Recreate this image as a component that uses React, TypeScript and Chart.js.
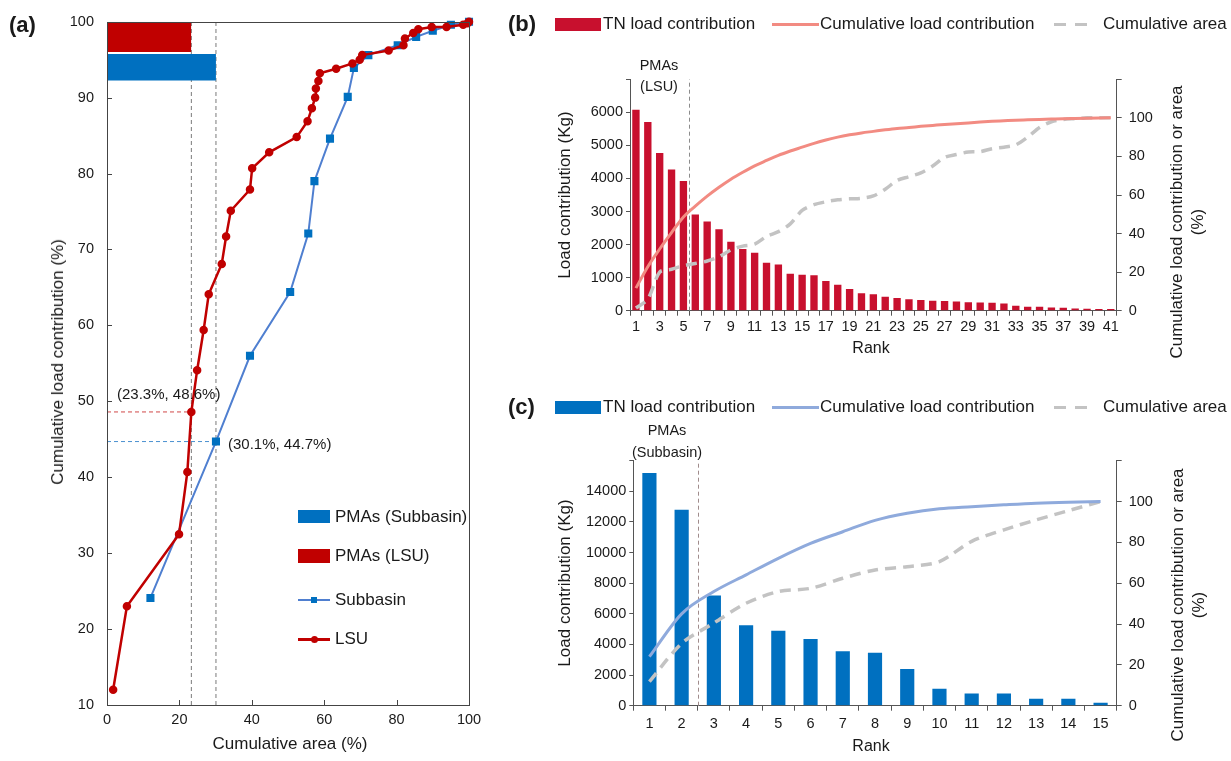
import React, { useEffect, useRef } from 'react';
import { Chart, registerables } from 'chart.js';

Chart.register(...registerables);

const FONT = "'Liberation Sans', Arial, Helvetica, sans-serif";
const TXT = '#1a1a1a';
Chart.defaults.font.family = FONT;
Chart.defaults.color = TXT;

// ---------- Panel (a) data ----------
const lsuArea = [1.7, 5.5, 19.9, 22.2, 23.3, 24.9, 26.7, 28.1, 31.7, 32.9, 34.2, 39.5, 40.1, 44.8, 52.4, 55.4, 56.6, 57.5, 57.7, 58.4, 58.8, 63.3, 67.8, 69.8, 70.5, 77.8, 81.9, 82.3, 84.6, 86.0, 89.7, 93.8, 98.4, 99.6, 100];
const lsuLoad = [12.0, 23.0, 32.5, 40.7, 48.6, 54.1, 59.4, 64.1, 68.1, 71.7, 75.1, 77.9, 80.7, 82.8, 84.8, 86.9, 88.6, 90.0, 91.2, 92.2, 93.2, 93.8, 94.5, 95.0, 95.6, 96.2, 96.9, 97.8, 98.5, 99.0, 99.3, 99.3, 99.6, 99.8, 100];
const subArea = [12.0, 30.1, 39.5, 50.6, 55.6, 57.3, 61.6, 66.5, 68.2, 72.2, 80.3, 85.4, 90.0, 95.0, 100];
const subLoad = [24.1, 44.7, 56.0, 64.4, 72.1, 79.0, 84.6, 90.1, 93.9, 95.6, 96.9, 98.0, 98.8, 99.6, 100];
const pmaLsu = [23.3, 48.6];
const pmaSub = [30.1, 44.7];
const xTicksA = [0, 20, 40, 60, 80, 100];
const yTicksA = [10, 20, 30, 40, 50, 60, 70, 80, 90, 100];

// ---------- Panel (b) data ----------
const rankB = ['1', '2', '3', '4', '5', '6', '7', '8', '9', '10', '11', '12', '13', '14', '15', '16', '17', '18', '19', '20', '21', '22', '23', '24', '25', '26', '27', '28', '29', '30', '31', '32', '33', '34', '35', '36', '37', '38', '39', '40', '41'];
const loadB = [6080, 5710, 4770, 4270, 3925, 2910, 2700, 2465, 2085, 1870, 1750, 1450, 1400, 1115, 1085, 1075, 895, 785, 655, 525, 495, 425, 385, 345, 325, 300, 290, 280, 255, 250, 240, 220, 150, 120, 120, 100, 90, 70, 60, 50, 50];
const cumLoadB = [11.7, 22.8, 32, 40.5, 48.6, 54.2, 59.4, 64, 68.2, 71.8, 75.1, 77.9, 80.6, 82.8, 84.8, 86.8, 88.5, 90, 91.2, 92.2, 93, 93.8, 94.5, 95, 95.6, 96.1, 96.6, 97, 97.4, 97.8, 98.2, 98.5, 98.8, 99, 99.2, 99.4, 99.6, 99.7, 99.8, 99.9, 100];
const cumAreaB = [1.4, 6, 20, 21.5, 23.3, 24.5, 25.8, 28, 31.5, 33.5, 34.5, 38.5, 41, 45, 52, 55, 56.5, 57.5, 58, 58.3, 59.5, 63, 67.5, 69.5, 71.5, 75, 79.5, 81, 82.3, 82.5, 84, 84.8, 86, 90, 95, 98, 99.2, 99.6, 100, 100, 100];
const pmaCountB = 5;
const yTicksB = [0, 1000, 2000, 3000, 4000, 5000, 6000, 7000];
const y2Ticks = [0, 20, 40, 60, 80, 100, 120];

// ---------- Panel (c) data ----------
const rankC = ['1', '2', '3', '4', '5', '6', '7', '8', '9', '10', '11', '12', '13', '14', '15'];
const loadC = [15200, 12800, 7200, 5250, 4900, 4350, 3550, 3450, 2400, 1100, 800, 800, 450, 450, 200];
const cumLoadC = [24, 45, 55.9, 64.1, 72.2, 79.5, 85.2, 90.8, 94.3, 96.5, 97.5, 98.4, 99.2, 99.7, 100];
const cumAreaC = [11.8, 30.5, 40.5, 50.2, 55.9, 57.5, 62.4, 66.5, 68.1, 70.6, 80.5, 86.1, 91, 95.5, 100];
const pmaCountC = 2;
const yTicksC = [0, 2000, 4000, 6000, 8000, 10000, 12000, 14000, 16000];

// ---------- styles ----------
const RED_A = '#c00000';
const BLUE_A = '#0070c0';
const BLUE_LINE_A = '#4f7fd0';
const RED_B = '#c8102e';
const SALMON = '#f28b82';
const GREY_DASH = '#c3c3c3';
const BLUE_C = '#0070c0';
const BLUE_LINE_C = '#8faadc';
const AXIS = '#555';
const TICK_FONT = { family: FONT, size: 14.5 };

const frameAndInnerTicks = {
  id: 'frameAndInnerTicks',
  afterDraw(chart: any) {
    const { ctx, chartArea: a, scales } = chart;
    ctx.save();
    ctx.strokeStyle = '#444';
    ctx.lineWidth = 1;
    ctx.beginPath();
    for (const t of scales.x.ticks) {
      const px = Math.round(scales.x.getPixelForValue(t.value)) + 0.5;
      ctx.moveTo(px, a.bottom);
      ctx.lineTo(px, a.bottom - 5);
    }
    for (const t of scales.y.ticks) {
      const py = Math.round(scales.y.getPixelForValue(t.value)) + 0.5;
      ctx.moveTo(a.left, py);
      ctx.lineTo(a.left + 5, py);
    }
    ctx.stroke();
    ctx.strokeRect(Math.round(a.left) + 0.5, Math.round(a.top) + 0.5, Math.round(a.right - a.left), Math.round(a.bottom - a.top));
    ctx.restore();
  },
};

// dashed divider between the last PMA rank and the next one, placed through the category scale
const makeDivider = (count: number, color: string) => ({
  id: 'pmaDivider',
  beforeDatasetsDraw(chart: any) {
    const { ctx, scales } = chart;
    const x = scales.x;
    const y = scales.y;
    const px = Math.round((x.getPixelForValue(count - 1) + x.getPixelForValue(count)) / 2) + 0.5;
    ctx.save();
    ctx.strokeStyle = color;
    ctx.lineWidth = 1;
    ctx.setLineDash([4, 3]);
    ctx.beginPath();
    ctx.moveTo(px, y.bottom);
    ctx.lineTo(px, y.top);
    ctx.stroke();
    ctx.restore();
  },
});

const pts = (xs: number[], ys: number[]) => xs.map((x, i) => ({ x, y: ys[i] }));
const seg = (x0: number, y0: number, x1: number, y1: number) => [{ x: x0, y: y0 }, { x: x1, y: y1 }];
const hidden = { borderColor: 'transparent', borderWidth: 0, pointRadius: 0, fill: false };

function makeA(): any {
  return {
    type: 'line',
    data: {
      datasets: [
        { label: 'LSU', data: pts(lsuArea, lsuLoad), borderColor: RED_A, backgroundColor: RED_A, pointBackgroundColor: RED_A, pointBorderColor: RED_A, borderWidth: 2.5, pointRadius: 3, pointStyle: 'circle', tension: 0, clip: false, order: 0 },
        { label: 'Subbasin', data: pts(subArea, subLoad), borderColor: BLUE_LINE_A, pointBackgroundColor: BLUE_A, pointBorderColor: BLUE_A, borderWidth: 2, pointRadius: 4.3, pointStyle: 'rect', tension: 0, clip: false, order: 1 },
        { label: 'lsuTop', data: seg(0, 100, pmaLsu[0], 100), ...hidden, order: 5 },
        { label: 'lsuBar', data: seg(0, 96, pmaLsu[0], 96), borderColor: 'transparent', borderWidth: 0, pointRadius: 0, fill: '-1', backgroundColor: RED_A, order: 5 },
        { label: 'subTop', data: seg(0, 95.75, pmaSub[0], 95.75), ...hidden, order: 5 },
        { label: 'subBar', data: seg(0, 92.25, pmaSub[0], 92.25), borderColor: 'transparent', borderWidth: 0, pointRadius: 0, fill: '-1', backgroundColor: BLUE_A, order: 5 },
        { label: 'vLsu', data: seg(pmaLsu[0], 10, pmaLsu[0], 100), borderColor: '#7a7a7a', borderWidth: 1, borderDash: [4, 3], pointRadius: 0, order: 6 },
        { label: 'vSub', data: seg(pmaSub[0], 10, pmaSub[0], 100), borderColor: '#7a7a7a', borderWidth: 1, borderDash: [4, 3], pointRadius: 0, order: 6 },
        { label: 'hLsu', data: seg(0, pmaLsu[1], pmaLsu[0], pmaLsu[1]), borderColor: '#d04848', borderWidth: 1, borderDash: [4, 3], pointRadius: 0, order: 6 },
        { label: 'hSub', data: seg(0, pmaSub[1], pmaSub[0], pmaSub[1]), borderColor: '#4a90d0', borderWidth: 1, borderDash: [4, 3], pointRadius: 0, order: 6 },
      ],
    },
    options: {
      responsive: false,
      animation: false,
      layout: { padding: { left: 0, top: 20, right: 31, bottom: 0 } },
      plugins: { legend: { display: false }, tooltip: { enabled: false } },
      scales: {
        x: {
          type: 'linear', min: 0, max: 100,
          afterBuildTicks: (s: any) => { s.ticks = xTicksA.map((v) => ({ value: v })); },
          ticks: { padding: 6, font: TICK_FONT, color: TXT },
          grid: { display: false, drawTicks: false },
          border: { display: false },
          afterFit: (s: any) => { s.height = 56; },
        },
        y: {
          type: 'linear', min: 10, max: 100,
          afterBuildTicks: (s: any) => { s.ticks = yTicksA.map((v) => ({ value: v })); },
          ticks: { padding: 13, font: TICK_FONT, color: TXT },
          grid: { display: false, drawTicks: false },
          border: { display: false },
          afterFit: (s: any) => { s.width = 107; },
        },
      },
    },
    plugins: [frameAndInnerTicks],
  };
}

function makeRankChart(opts: {
  labels: string[]; load: number[]; cumLoad: number[]; cumArea: number[]; pmaCount: number; dividerColor: string;
  yTicks: number[]; barColor: string; lineColor: string; barPct: number;
  padTop: number; leftW: number; rightW: number; bottomH: number; everyOther: boolean; xPad: number;
}): any {
  const yMax = opts.yTicks[opts.yTicks.length - 1];
  return {
    type: 'bar',
    data: {
      labels: opts.labels,
      datasets: [
        { type: 'line', label: 'Cumulative load contribution', data: opts.cumLoad, yAxisID: 'y2', borderColor: opts.lineColor, borderWidth: 3, pointRadius: 0, tension: 0.4, cubicInterpolationMode: 'monotone', order: 0 },
        { type: 'line', label: 'Cumulative area', data: opts.cumArea, yAxisID: 'y2', borderColor: GREY_DASH, borderWidth: 3.5, borderDash: [11, 7], pointRadius: 0, tension: 0.3, order: 1 },
        { type: 'bar', label: 'TN load contribution', data: opts.load, yAxisID: 'y', backgroundColor: opts.barColor, barPercentage: opts.barPct, categoryPercentage: 1, grouped: false, order: 3 },
      ],
    },
    options: {
      responsive: false,
      animation: false,
      layout: { padding: { left: 0, top: opts.padTop, right: 0, bottom: 0 } },
      plugins: { legend: { display: false }, tooltip: { enabled: false } },
      scales: {
        x: {
          type: 'category', offset: true,
          grid: { offset: true, drawOnChartArea: false, drawTicks: true, tickLength: 5, color: AXIS },
          border: { color: AXIS },
          ticks: {
            autoSkip: false, maxRotation: 0, minRotation: 0, padding: opts.xPad, font: TICK_FONT, color: TXT,
            callback: (_v: any, i: number) => (opts.everyOther && i % 2 === 1 ? '' : opts.labels[i]),
          },
          afterFit: (s: any) => { s.height = opts.bottomH; },
        },
        y: {
          position: 'left', min: 0, max: yMax,
          afterBuildTicks: (s: any) => { s.ticks = opts.yTicks.map((v) => ({ value: v })); },
          ticks: { padding: 3, font: TICK_FONT, color: TXT, callback: (v: any) => (v === yMax ? '' : String(v)) },
          grid: { drawOnChartArea: false, drawTicks: true, tickLength: 4, color: AXIS },
          border: { color: AXIS },
          afterFit: (s: any) => { s.width = opts.leftW; },
        },
        y2: {
          position: 'right', min: 0, max: 120,
          afterBuildTicks: (s: any) => { s.ticks = y2Ticks.map((v) => ({ value: v })); },
          ticks: { padding: 7, font: TICK_FONT, color: TXT, callback: (v: any) => (v === 120 ? '' : String(v)) },
          grid: { drawOnChartArea: false, drawTicks: true, tickLength: 5, color: AXIS },
          border: { color: AXIS },
          afterFit: (s: any) => { s.width = opts.rightW; },
        },
      },
    },
    plugins: [makeDivider(opts.pmaCount, opts.dividerColor)],
  };
}

function ChartBox({ left, top, width, height, make }: { left: number; top: number; width: number; height: number; make: () => any }) {
  const ref = useRef<HTMLCanvasElement>(null);
  useEffect(() => {
    const chart = new Chart(ref.current as HTMLCanvasElement, make());
    return () => chart.destroy();
  }, []);
  return <canvas ref={ref} width={width} height={height} style={{ position: 'absolute', left, top, width, height }} />;
}

type TP = { x: number; y: number; children: React.ReactNode; size?: number; rot?: boolean; bold?: boolean; left?: boolean; lh?: number };
function T({ x, y, children, size = 17, rot = false, bold = false, left = false, lh }: TP) {
  const transform = left ? 'translateY(-50%)' : rot ? 'translate(-50%,-50%) rotate(-90deg)' : 'translate(-50%,-50%)';
  return (
    <div style={{ position: 'absolute', left: x, top: y, transform, whiteSpace: 'nowrap', fontFamily: FONT, fontSize: size, fontWeight: bold ? 700 : 400, color: TXT, textAlign: 'center', lineHeight: lh ? `${lh}px` : 'normal' }}>
      {children}
    </div>
  );
}

const Box = ({ x, y, w, h, c, r }: { x: number; y: number; w: number; h: number; c: string; r?: number }) => (
  <div style={{ position: 'absolute', left: x, top: y, width: w, height: h, background: c, borderRadius: r || 0 }} />
);

function LegendRow({ y, barColor, lineColor }: { y: number; barColor: string; lineColor: string }) {
  return (
    <>
      <Box x={555} y={y - 6.5} w={46} h={13} c={barColor} />
      <T x={603} y={y} left>TN load contribution</T>
      <Box x={772} y={y - 1.5} w={47} h={3} c={lineColor} />
      <T x={820} y={y} left>Cumulative load contribution</T>
      <Box x={1054} y={y - 1.5} w={12} h={3} c={GREY_DASH} />
      <Box x={1075} y={y - 1.5} w={12} h={3} c={GREY_DASH} />
      <T x={1103} y={y} left>Cumulative area</T>
    </>
  );
}

export default function App() {
  return (
    <div style={{ position: 'absolute', left: 0, top: 0, width: 1231, height: 761, background: '#fff', overflow: 'hidden' }}>
      <ChartBox left={0} top={0} width={500} height={761} make={makeA} />
      <ChartBox
        left={500} top={0} width={731} height={380}
        make={() => makeRankChart({ labels: rankB, load: loadB, cumLoad: cumLoadB, cumArea: cumAreaB, pmaCount: pmaCountB, dividerColor: '#8c8c8c', yTicks: yTicksB, barColor: RED_B, lineColor: SALMON, barPct: 0.62, padTop: 79.3, leftW: 130, rightW: 114.3, bottomH: 69.3, everyOther: true, xPad: 3 })}
      />
      <ChartBox
        left={500} top={380} width={731} height={381}
        make={() => makeRankChart({ labels: rankC, load: loadC, cumLoad: cumLoadC, cumArea: cumAreaC, pmaCount: pmaCountC, dividerColor: '#a08c8c', yTicks: yTicksC, barColor: BLUE_C, lineColor: BLUE_LINE_C, barPct: 0.44, padTop: 80.7, leftW: 133.3, rightW: 114.3, bottomH: 55.3, everyOther: false, xPad: 4.5 })}
      />

      {/* Panel (a) texts */}
      <T x={9} y={25} size={22} bold left>(a)</T>
      <T x={58} y={362} rot>Cumulative load contribution (%)</T>
      <T x={290} y={744}>Cumulative area (%)</T>
      <T x={117} y={393} size={15} left>(23.3%, 48.6%)</T>
      <T x={228} y={443} size={15} left>(30.1%, 44.7%)</T>
      <Box x={298} y={510} w={32} h={13} c={BLUE_A} />
      <T x={335} y={516.5} left>PMAs (Subbasin)</T>
      <Box x={298} y={549} w={32} h={14} c={RED_A} />
      <T x={335} y={556} left>PMAs (LSU)</T>
      <Box x={298} y={599} w={32} h={2} c={BLUE_LINE_A} />
      <Box x={311} y={597} w={6} h={6} c={BLUE_A} />
      <T x={335} y={600} left>Subbasin</T>
      <Box x={298} y={638} w={32} h={2.5} c={RED_A} />
      <Box x={311} y={636} w={6.5} h={6.5} c={RED_A} r={4} />
      <T x={335} y={639} left>LSU</T>

      {/* Panel (b) texts */}
      <T x={508} y={24} size={22} bold left>(b)</T>
      <LegendRow y={24} barColor={RED_B} lineColor={SALMON} />
      <T x={659} y={65} size={14.5}>PMAs</T>
      <T x={659} y={86} size={14.5}>(LSU)</T>
      <T x={565} y={195} rot>Load contribution (Kg)</T>
      <T x={871} y={348} size={16}>Rank</T>
      <T x={1187} y={222} rot lh={21}>Cumulative load contribution or area<br />(%)</T>

      {/* Panel (c) texts */}
      <T x={508} y={407} size={22} bold left>(c)</T>
      <LegendRow y={407} barColor={BLUE_C} lineColor={BLUE_LINE_C} />
      <T x={667} y={430} size={14.5}>PMAs</T>
      <T x={667} y={452} size={14.5}>(Subbasin)</T>
      <T x={565} y={583} rot>Load contribution (Kg)</T>
      <T x={871} y={746} size={16}>Rank</T>
      <T x={1188} y={605} rot lh={21}>Cumulative load contribution or area<br />(%)</T>
    </div>
  );
}
